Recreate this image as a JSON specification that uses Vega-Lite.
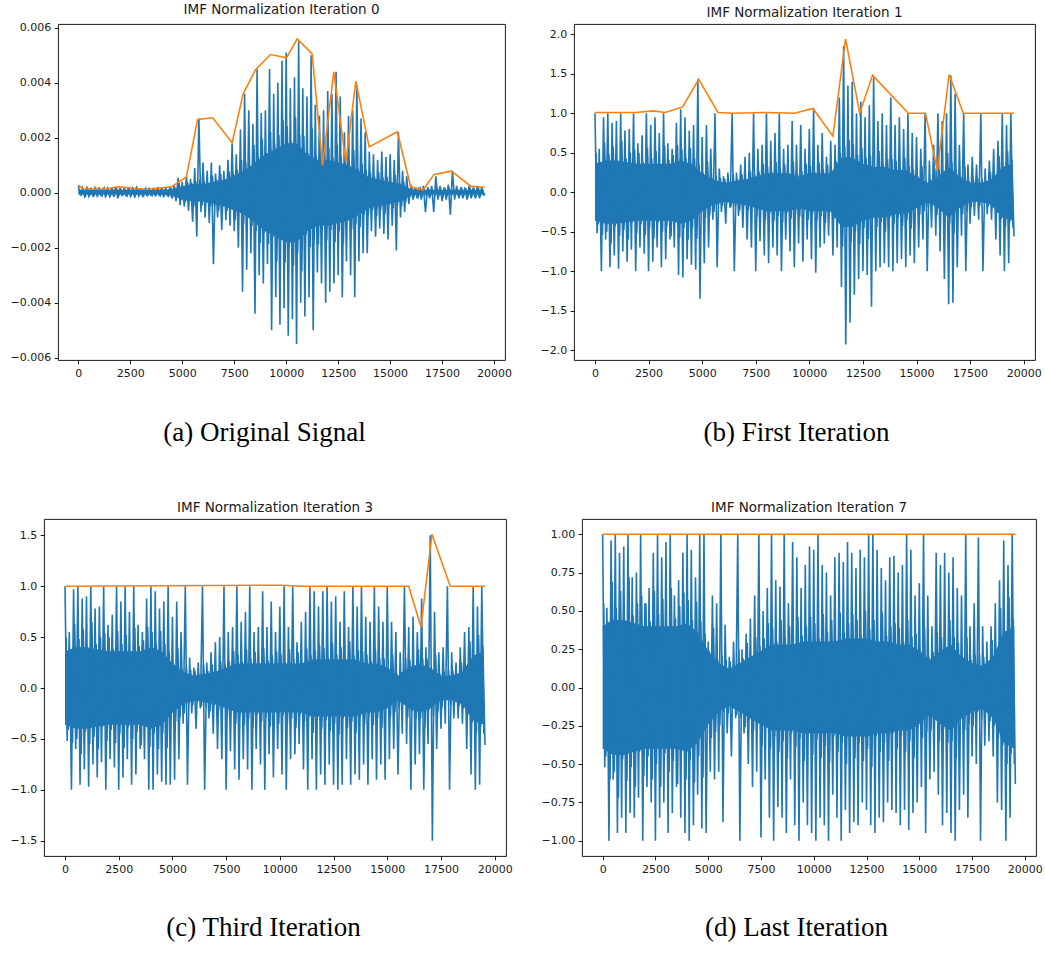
{
  "$schema": "https://vega.github.io/schema/vega-lite/v6.json",
  "background": "white",
  "padding": {"left": 8, "top": 2, "right": 4, "bottom": 5},
  "spacing": 54,
  "config": {
    "font": "DejaVu Sans",
    "view": {"stroke": "#000000", "strokeWidth": 0.9},
    "axis": {
      "grid": false,
      "domain": false,
      "tickColor": "#000000",
      "tickSize": 3.8,
      "tickWidth": 0.9,
      "labelFont": "DejaVu Sans",
      "labelFontSize": 11,
      "labelColor": "#1a1a1a",
      "labelPadding": 3.5,
      "labelOverlap": false,
      "labelFlush": false,
      "titleFont": "Liberation Serif",
      "titleFontSize": 27,
      "titleFontWeight": "normal",
      "titleColor": "#000000"
    },
    "title": {
      "font": "DejaVu Sans",
      "fontSize": 13.5,
      "fontWeight": "normal",
      "color": "#1a1a1a",
      "frame": "group",
      "anchor": "middle",
      "baseline": "alphabetic",
      "offset": 5
    }
  },
  "datasets": {
    "signal": [
      {"x":0,"a":0.00025,"b":1,"c":1,"d":1},
      {"x":100,"a":-0.0001,"b":-0.52,"c":-0.52,"d":-0.52},
      {"x":200,"a":0.00018,"b":0.55,"c":0.55,"d":0.52},
      {"x":300,"a":-0.00012,"b":-1,"c":-1,"d":-1},
      {"x":400,"a":0.00016,"b":0.95,"c":0.97,"d":0.96},
      {"x":500,"a":-0.00011,"b":-0.6,"c":-0.6,"d":-0.6},
      {"x":600,"a":0.00019,"b":1,"c":1,"d":1},
      {"x":700,"a":-0.00014,"b":-0.95,"c":-0.95,"d":-0.95},
      {"x":800,"a":0.00017,"b":0.88,"c":0.88,"d":0.88},
      {"x":900,"a":-0.0001,"b":-0.8,"c":-0.8,"d":-0.85},
      {"x":1000,"a":0.0002,"b":0.9,"c":0.9,"d":0.92},
      {"x":1100,"a":-0.00013,"b":-0.97,"c":-0.97,"d":-0.95},
      {"x":1200,"a":0.00018,"b":1,"c":1,"d":1},
      {"x":1300,"a":-0.00012,"b":-0.75,"c":-0.75,"d":-0.82},
      {"x":1400,"a":0.00016,"b":0.78,"c":0.78,"d":0.72},
      {"x":1500,"a":-0.00011,"b":-0.88,"c":-0.88,"d":-0.85},
      {"x":1600,"a":0.00019,"b":0.8,"c":0.8,"d":0.75},
      {"x":1700,"a":-0.00015,"b":-0.73,"c":-0.73,"d":-0.72},
      {"x":1800,"a":0.00022,"b":1,"c":1,"d":1},
      {"x":1900,"a":-0.0002,"b":-1,"c":-1,"d":-1},
      {"x":2000,"a":0.00018,"b":0.62,"c":0.62,"d":0.55},
      {"x":2100,"a":-0.00012,"b":-0.7,"c":-0.7,"d":-0.65},
      {"x":2200,"a":0.00017,"b":0.72,"c":0.72,"d":0.65},
      {"x":2300,"a":-0.00013,"b":-0.78,"c":-0.78,"d":-0.75},
      {"x":2400,"a":0.00019,"b":1,"c":1,"d":0.88},
      {"x":2500,"a":-0.00011,"b":-1,"c":-1,"d":-1},
      {"x":2600,"a":0.00016,"b":0.85,"c":0.85,"d":1},
      {"x":2700,"a":-0.00012,"b":-0.88,"c":-0.88,"d":-0.85},
      {"x":2800,"a":0.00018,"b":0.95,"c":1,"d":0.85},
      {"x":2900,"a":-0.0001,"b":-0.7,"c":-0.7,"d":-0.75},
      {"x":3000,"a":0.00017,"b":0.75,"c":0.75,"d":0.95},
      {"x":3100,"a":-0.00015,"b":-0.95,"c":-0.95,"d":-0.95},
      {"x":3200,"a":0.00016,"b":1,"c":1,"d":1},
      {"x":3300,"a":-0.00012,"b":-0.85,"c":-0.85,"d":-0.82},
      {"x":3400,"a":0.00019,"b":0.62,"c":0.62,"d":0.6},
      {"x":3500,"a":-0.00011,"b":-0.6,"c":-0.6,"d":-0.65},
      {"x":3600,"a":0.00018,"b":0.55,"c":0.55,"d":0.7},
      {"x":3700,"a":-0.00013,"b":-0.7,"c":-0.7,"d":-0.85},
      {"x":3800,"a":0.0002,"b":0.88,"c":0.88,"d":0.88},
      {"x":3900,"a":-0.00012,"b":-1.05,"c":-1,"d":-0.95},
      {"x":4000,"a":0.00019,"b":1.05,"c":1,"d":1},
      {"x":4100,"a":-0.00016,"b":-1.08,"c":-1,"d":-1},
      {"x":4200,"a":0.00021,"b":0.95,"c":0.95,"d":0.9},
      {"x":4300,"a":-0.00014,"b":-0.85,"c":-0.85,"d":-0.9},
      {"x":4400,"a":0.0002,"b":0.78,"c":0.78,"d":0.72},
      {"x":4500,"a":-0.0002,"b":-0.92,"c":-0.92,"d":-0.7},
      {"x":4600,"a":0.00025,"b":0.85,"c":0.85,"d":1},
      {"x":4700,"a":-0.0003,"b":-0.98,"c":-0.95,"d":-0.92},
      {"x":4800,"a":0.00055,"b":1.43,"c":1,"d":1},
      {"x":4900,"a":-0.00045,"b":-1.35,"c":-0.95,"d":-0.95},
      {"x":5000,"a":0.0004,"b":0.7,"c":0.7,"d":0.3},
      {"x":5100,"a":-0.0005,"b":-0.9,"c":-0.9,"d":-0.55},
      {"x":5200,"a":0.0006,"b":0.85,"c":0.85,"d":0.6},
      {"x":5300,"a":-0.00065,"b":-0.7,"c":-0.7,"d":-0.6},
      {"x":5400,"a":0.0005,"b":0.55,"c":0.55,"d":0.55},
      {"x":5500,"a":-0.00105,"b":-0.35,"c":-0.35,"d":-0.55},
      {"x":5600,"a":0.0009,"b":1,"c":1,"d":1},
      {"x":5700,"a":-0.0016,"b":-0.95,"c":-0.95,"d":-0.88},
      {"x":5800,"a":0.0027,"b":0.3,"c":0.3,"d":0.41},
      {"x":5900,"a":-0.0007,"b":-0.25,"c":-0.25,"d":-0.3},
      {"x":6000,"a":0.0011,"b":0.2,"c":0.2,"d":0.2},
      {"x":6100,"a":-0.0009,"b":-0.4,"c":-0.4,"d":-0.45},
      {"x":6200,"a":0.0008,"b":0.25,"c":0.25,"d":0.3},
      {"x":6300,"a":-0.0011,"b":-0.2,"c":-0.2,"d":-0.2},
      {"x":6400,"a":0.0011,"b":1,"c":1,"d":1},
      {"x":6500,"a":-0.0026,"b":-1,"c":-1,"d":-1},
      {"x":6600,"a":0.0007,"b":0.25,"c":0.25,"d":0.25},
      {"x":6700,"a":-0.0009,"b":-0.3,"c":-0.3,"d":-0.3},
      {"x":6800,"a":0.001,"b":0.35,"c":0.35,"d":0.35},
      {"x":6900,"a":-0.00135,"b":-0.45,"c":-0.45,"d":-0.5},
      {"x":7000,"a":0.0008,"b":0.45,"c":0.45,"d":0.45},
      {"x":7100,"a":-0.001,"b":-0.6,"c":-0.6,"d":-0.65},
      {"x":7200,"a":0.0012,"b":0.5,"c":0.5,"d":0.6},
      {"x":7300,"a":-0.0012,"b":-0.7,"c":-0.7,"d":-0.55},
      {"x":7400,"a":0.0018,"b":1,"c":1,"d":1},
      {"x":7500,"a":-0.0014,"b":-1,"c":-1,"d":-0.98},
      {"x":7600,"a":0.0014,"b":0.55,"c":0.55,"d":0.5},
      {"x":7700,"a":-0.002,"b":-0.62,"c":-0.62,"d":-0.6},
      {"x":7800,"a":0.0023,"b":0.6,"c":0.6,"d":0.65},
      {"x":7900,"a":-0.0036,"b":-0.8,"c":-0.8,"d":-0.85},
      {"x":8000,"a":0.0036,"b":1,"c":1,"d":1},
      {"x":8100,"a":-0.0028,"b":-0.9,"c":-0.9,"d":-1},
      {"x":8200,"a":0.003,"b":0.65,"c":0.65,"d":0.7},
      {"x":8300,"a":-0.0022,"b":-0.7,"c":-0.7,"d":-0.78},
      {"x":8400,"a":0.0025,"b":0.75,"c":0.75,"d":0.66},
      {"x":8500,"a":-0.0044,"b":-0.8,"c":-0.8,"d":-0.85},
      {"x":8600,"a":0.0045,"b":1,"c":1,"d":1},
      {"x":8700,"a":-0.003,"b":-1,"c":-1,"d":-0.95},
      {"x":8800,"a":0.0029,"b":0.55,"c":0.55,"d":0.55},
      {"x":8900,"a":-0.0033,"b":-0.6,"c":-0.6,"d":-0.6},
      {"x":9000,"a":0.003,"b":0.6,"c":0.6,"d":0.95},
      {"x":9100,"a":-0.0026,"b":-0.75,"c":-0.75,"d":-0.9},
      {"x":9200,"a":0.0045,"b":0.9,"c":0.95,"d":0.85},
      {"x":9300,"a":-0.005,"b":-0.95,"c":-1,"d":-1},
      {"x":9400,"a":0.0036,"b":0.6,"c":0.6,"d":0.65},
      {"x":9500,"a":-0.0038,"b":-0.65,"c":-0.65,"d":-0.75},
      {"x":9600,"a":0.004,"b":0.85,"c":0.85,"d":0.8},
      {"x":9700,"a":-0.0048,"b":-0.88,"c":-0.88,"d":-0.9},
      {"x":9800,"a":0.0048,"b":0.55,"c":0.55,"d":0.92},
      {"x":9900,"a":-0.0042,"b":-0.6,"c":-0.6,"d":-0.95},
      {"x":10000,"a":0.0051,"b":0.8,"c":0.8,"d":0.9},
      {"x":10100,"a":-0.0052,"b":-0.85,"c":-0.85,"d":-1},
      {"x":10200,"a":0.0038,"b":1.06,"c":1,"d":1},
      {"x":10300,"a":-0.0046,"b":-1.02,"c":-1,"d":-0.85},
      {"x":10400,"a":0.0042,"b":0.6,"c":0.6,"d":0.8},
      {"x":10500,"a":-0.0055,"b":-0.7,"c":-0.7,"d":-0.9},
      {"x":10600,"a":0.0055,"b":0.75,"c":1,"d":0.75},
      {"x":10700,"a":-0.004,"b":-0.65,"c":-0.65,"d":-1},
      {"x":10800,"a":0.0038,"b":0.45,"c":0.45,"d":0.6},
      {"x":10900,"a":-0.0045,"b":-0.55,"c":-0.55,"d":-0.7},
      {"x":11000,"a":0.0035,"b":0.65,"c":0.65,"d":0.85},
      {"x":11100,"a":-0.0038,"b":-0.8,"c":-0.8,"d":-0.85},
      {"x":11200,"a":0.005,"b":0.6,"c":0.75,"d":0.88},
      {"x":11300,"a":-0.005,"b":-0.7,"c":-1,"d":-1},
      {"x":11400,"a":0.0032,"b":1.2,"c":1,"d":0.82},
      {"x":11500,"a":-0.0029,"b":-1.2,"c":-0.7,"d":-0.8},
      {"x":11600,"a":0.0028,"b":1.85,"c":0.95,"d":0.95},
      {"x":11700,"a":-0.0033,"b":-1.93,"c":-1,"d":-0.95},
      {"x":11800,"a":0.003,"b":1.35,"c":0.8,"d":0.88},
      {"x":11900,"a":-0.004,"b":-1.65,"c":-0.85,"d":-0.88},
      {"x":12000,"a":0.0037,"b":1.4,"c":0.95,"d":0.78},
      {"x":12100,"a":-0.0036,"b":-1.3,"c":-0.95,"d":-0.9},
      {"x":12200,"a":0.0036,"b":1,"c":1,"d":0.9},
      {"x":12300,"a":-0.0033,"b":-1.1,"c":-0.75,"d":-0.75},
      {"x":12400,"a":0.0044,"b":1.15,"c":0.85,"d":0.85},
      {"x":12500,"a":-0.003,"b":-1,"c":-0.95,"d":-0.8},
      {"x":12600,"a":0.0035,"b":0.95,"c":0.9,"d":1},
      {"x":12700,"a":-0.0038,"b":-1.05,"c":-1,"d":-0.9},
      {"x":12800,"a":0.0022,"b":1.1,"c":0.65,"d":1},
      {"x":12900,"a":-0.0025,"b":-1.45,"c":-0.95,"d":-0.95},
      {"x":13000,"a":0.0028,"b":1.45,"c":0.95,"d":0.9},
      {"x":13100,"a":-0.003,"b":-1,"c":-0.7,"d":-0.85},
      {"x":13200,"a":0.003,"b":0.9,"c":0.6,"d":0.78},
      {"x":13300,"a":-0.0038,"b":-0.95,"c":-0.95,"d":-0.88},
      {"x":13400,"a":0.0039,"b":1,"c":1,"d":0.7},
      {"x":13500,"a":-0.0025,"b":-0.9,"c":-0.85,"d":-0.75},
      {"x":13600,"a":0.0027,"b":0.85,"c":0.8,"d":0.85},
      {"x":13700,"a":-0.0022,"b":-0.95,"c":-0.9,"d":-0.8},
      {"x":13800,"a":0.0022,"b":1.2,"c":1,"d":0.86},
      {"x":13900,"a":-0.0022,"b":-1,"c":-0.75,"d":-0.82},
      {"x":14000,"a":0.0015,"b":0.85,"c":0.7,"d":0.75},
      {"x":14100,"a":-0.0014,"b":-0.9,"c":-0.95,"d":-0.9},
      {"x":14200,"a":0.0014,"b":0.95,"c":0.65,"d":0.8},
      {"x":14300,"a":-0.0016,"b":-0.85,"c":-0.7,"d":-0.8},
      {"x":14400,"a":0.0012,"b":0.8,"c":1,"d":1},
      {"x":14500,"a":-0.0013,"b":-0.95,"c":-0.9,"d":-0.93},
      {"x":14600,"a":0.0015,"b":1,"c":0.8,"d":0.9},
      {"x":14700,"a":-0.0015,"b":-0.8,"c":-0.75,"d":-0.82},
      {"x":14800,"a":0.0013,"b":0.75,"c":0.65,"d":0.6},
      {"x":14900,"a":-0.0017,"b":-0.9,"c":-0.9,"d":-0.75},
      {"x":15000,"a":0.0014,"b":0.7,"c":1,"d":0.68},
      {"x":15100,"a":-0.0012,"b":-0.7,"c":-0.7,"d":-0.65},
      {"x":15200,"a":0.0012,"b":0.55,"c":0.65,"d":1},
      {"x":15300,"a":-0.0021,"b":-0.6,"c":-0.6,"d":-0.95},
      {"x":15400,"a":0.0022,"b":1,"c":0.55,"d":0.6},
      {"x":15500,"a":-0.0009,"b":-1,"c":-0.85,"d":-0.6},
      {"x":15600,"a":0.0008,"b":0.4,"c":0.35,"d":0.4},
      {"x":15700,"a":-0.0007,"b":-0.45,"c":-0.45,"d":-0.55},
      {"x":15800,"a":0.0006,"b":0.6,"c":1,"d":0.88},
      {"x":15900,"a":-0.0004,"b":-0.55,"c":-0.55,"d":-0.7},
      {"x":16000,"a":0.0003,"b":1,"c":0.6,"d":0.8},
      {"x":16100,"a":-0.00025,"b":-0.75,"c":-1,"d":-0.9},
      {"x":16200,"a":0.0002,"b":0.9,"c":0.7,"d":0.88},
      {"x":16300,"a":-0.0002,"b":-1.1,"c":-0.75,"d":-0.82},
      {"x":16400,"a":0.0002,"b":1,"c":0.55,"d":0.75},
      {"x":16500,"a":-0.00025,"b":-1.42,"c":-0.65,"d":-0.95},
      {"x":16600,"a":0.00025,"b":1.48,"c":0.88,"d":0.85},
      {"x":16700,"a":-0.0007,"b":-1.4,"c":-1,"d":-1},
      {"x":16800,"a":0.0002,"b":1.25,"c":0.4,"d":0.65},
      {"x":16900,"a":-0.0002,"b":-0.95,"c":-0.55,"d":-0.8},
      {"x":17000,"a":0.00025,"b":0.6,"c":1.5,"d":0.6},
      {"x":17100,"a":-0.0007,"b":-0.55,"c":-1.5,"d":-0.7},
      {"x":17200,"a":0.0006,"b":1,"c":0.75,"d":1},
      {"x":17300,"a":-0.00025,"b":-1,"c":-0.6,"d":-0.85},
      {"x":17400,"a":0.00025,"b":0.35,"c":0.35,"d":0.4},
      {"x":17500,"a":-0.0003,"b":-0.4,"c":-0.4,"d":-0.45},
      {"x":17600,"a":0.0002,"b":0.45,"c":0.4,"d":0.55},
      {"x":17700,"a":-0.00025,"b":-0.3,"c":-0.35,"d":-0.5},
      {"x":17800,"a":0.0003,"b":0.35,"c":1,"d":0.98},
      {"x":17900,"a":-0.0008,"b":-0.35,"c":-1,"d":-1},
      {"x":18000,"a":0.0008,"b":1,"c":0.35,"d":0.4},
      {"x":18100,"a":-0.00025,"b":-1,"c":-0.3,"d":-0.38},
      {"x":18200,"a":0.00025,"b":0.3,"c":0.25,"d":0.3},
      {"x":18300,"a":-0.0002,"b":-0.28,"c":-0.3,"d":-0.35},
      {"x":18400,"a":0.0002,"b":0.4,"c":0.4,"d":0.4},
      {"x":18500,"a":-0.0002,"b":-0.35,"c":-0.35,"d":-0.45},
      {"x":18600,"a":0.0002,"b":0.55,"c":0.55,"d":0.55},
      {"x":18700,"a":-0.00025,"b":-0.6,"c":-0.6,"d":-0.75},
      {"x":18800,"a":0.00025,"b":0.65,"c":0.6,"d":0.7},
      {"x":18900,"a":-0.0002,"b":-0.8,"c":-0.85,"d":-0.8},
      {"x":19000,"a":0.0002,"b":1,"c":1,"d":0.96},
      {"x":19100,"a":-0.0002,"b":-1,"c":-1,"d":-1},
      {"x":19200,"a":0.00025,"b":0.85,"c":0.8,"d":0.8},
      {"x":19300,"a":-0.0002,"b":-0.9,"c":-0.95,"d":-0.85},
      {"x":19400,"a":0.0002,"b":1,"c":1,"d":1},
      {"x":19500,"a":-0.0001,"b":-0.45,"c":-0.45,"d":-0.5}
    ],
    "body": [
      {"x":50,"a":0.00013,"b":0.5,"c":0.5,"d":0.55},{"x":150,"a":-0.00007,"b":-0.41,"c":-0.41,"d":-0.45},
      {"x":250,"a":0.0001,"b":0.38,"c":0.38,"d":0.43},{"x":350,"a":-0.0001,"b":-0.54,"c":-0.54,"d":-0.6},
      {"x":450,"a":0.00015,"b":0.63,"c":0.63,"d":0.69},{"x":550,"a":-0.00008,"b":-0.5,"c":-0.5,"d":-0.55},
      {"x":650,"a":0.00011,"b":0.48,"c":0.48,"d":0.52},{"x":750,"a":-0.0001,"b":-0.65,"c":-0.65,"d":-0.72},
      {"x":850,"a":0.00014,"b":0.58,"c":0.58,"d":0.63},{"x":950,"a":-0.00007,"b":-0.43,"c":-0.43,"d":-0.47},
      {"x":1050,"a":0.0001,"b":0.4,"c":0.4,"d":0.44},{"x":1150,"a":-0.00009,"b":-0.55,"c":-0.55,"d":-0.61},
      {"x":1250,"a":0.00016,"b":0.65,"c":0.65,"d":0.72},{"x":1350,"a":-0.00008,"b":-0.48,"c":-0.48,"d":-0.52},
      {"x":1450,"a":0.00011,"b":0.43,"c":0.43,"d":0.47},{"x":1550,"a":-0.0001,"b":-0.6,"c":-0.6,"d":-0.65},
      {"x":1650,"a":0.00013,"b":0.5,"c":0.5,"d":0.55},{"x":1750,"a":-0.00006,"b":-0.38,"c":-0.38,"d":-0.42},
      {"x":1850,"a":0.00014,"b":0.54,"c":0.54,"d":0.6},{"x":1950,"a":-0.00009,"b":-0.52,"c":-0.52,"d":-0.58},
      {"x":2050,"a":0.00013,"b":0.5,"c":0.5,"d":0.55},{"x":2150,"a":-0.00007,"b":-0.41,"c":-0.41,"d":-0.45},
      {"x":2250,"a":0.0001,"b":0.38,"c":0.38,"d":0.43},{"x":2350,"a":-0.0001,"b":-0.54,"c":-0.54,"d":-0.6},
      {"x":2450,"a":0.00015,"b":0.56,"c":0.56,"d":0.63},{"x":2550,"a":-0.00008,"b":-0.45,"c":-0.45,"d":-0.5},
      {"x":2650,"a":0.00011,"b":0.43,"c":0.43,"d":0.48},{"x":2750,"a":-0.0001,"b":-0.59,"c":-0.59,"d":-0.65},
      {"x":2850,"a":0.00014,"b":0.52,"c":0.52,"d":0.58},{"x":2950,"a":-0.00007,"b":-0.38,"c":-0.38,"d":-0.43},
      {"x":3050,"a":0.0001,"b":0.36,"c":0.36,"d":0.4},{"x":3150,"a":-0.00009,"b":-0.5,"c":-0.5,"d":-0.55},
      {"x":3250,"a":0.00016,"b":0.59,"c":0.59,"d":0.65},{"x":3350,"a":-0.00008,"b":-0.43,"c":-0.43,"d":-0.48},
      {"x":3450,"a":0.00011,"b":0.41,"c":0.41,"d":0.45},{"x":3550,"a":-0.0001,"b":-0.56,"c":-0.56,"d":-0.63},
      {"x":3650,"a":0.00013,"b":0.47,"c":0.47,"d":0.53},{"x":3750,"a":-0.00006,"b":-0.36,"c":-0.36,"d":-0.4},
      {"x":3850,"a":0.00014,"b":0.6,"c":0.6,"d":0.62},{"x":3950,"a":-0.00009,"b":-0.58,"c":-0.58,"d":-0.6},
      {"x":4050,"a":0.00013,"b":0.55,"c":0.55,"d":0.57},{"x":4150,"a":-0.00007,"b":-0.45,"c":-0.45,"d":-0.47},
      {"x":4250,"a":0.0001,"b":0.43,"c":0.43,"d":0.44},{"x":4350,"a":-0.0001,"b":-0.6,"c":-0.6,"d":-0.62},
      {"x":4450,"a":0.00019,"b":0.56,"c":0.56,"d":0.56},{"x":4550,"a":-0.00012,"b":-0.45,"c":-0.45,"d":-0.45},
      {"x":4650,"a":0.00014,"b":0.43,"c":0.43,"d":0.43},{"x":4750,"a":-0.00016,"b":-0.59,"c":-0.59,"d":-0.59},
      {"x":4850,"a":0.00035,"b":0.35,"c":0.35,"d":0.35},{"x":4950,"a":-0.00026,"b":-0.26,"c":-0.26,"d":-0.26},
      {"x":5050,"a":0.00024,"b":0.24,"c":0.24,"d":0.24},{"x":5150,"a":-0.00033,"b":-0.33,"c":-0.33,"d":-0.33},
      {"x":5250,"a":0.00039,"b":0.39,"c":0.39,"d":0.39},{"x":5350,"a":-0.00029,"b":-0.29,"c":-0.29,"d":-0.29},
      {"x":5450,"a":0.00036,"b":0.18,"c":0.18,"d":0.18},{"x":5550,"a":-0.0005,"b":-0.25,"c":-0.25,"d":-0.25},
      {"x":5650,"a":0.00042,"b":0.21,"c":0.21,"d":0.21},{"x":5750,"a":-0.00032,"b":-0.16,"c":-0.16,"d":-0.16},
      {"x":5850,"a":0.00048,"b":0.18,"c":0.18,"d":0.18},{"x":5950,"a":-0.00046,"b":-0.17,"c":-0.17,"d":-0.17},
      {"x":6050,"a":0.00044,"b":0.17,"c":0.17,"d":0.17},{"x":6150,"a":-0.00036,"b":-0.14,"c":-0.14,"d":-0.14},
      {"x":6250,"a":0.00034,"b":0.13,"c":0.13,"d":0.13},{"x":6350,"a":-0.00048,"b":-0.18,"c":-0.18,"d":-0.18},
      {"x":6450,"a":0.00063,"b":0.23,"c":0.23,"d":0.25},{"x":6550,"a":-0.0005,"b":-0.18,"c":-0.18,"d":-0.2},
      {"x":6650,"a":0.00048,"b":0.17,"c":0.17,"d":0.19},{"x":6750,"a":-0.00065,"b":-0.23,"c":-0.23,"d":-0.26},
      {"x":6850,"a":0.00069,"b":0.23,"c":0.23,"d":0.29},{"x":6950,"a":-0.00051,"b":-0.17,"c":-0.17,"d":-0.21},
      {"x":7050,"a":0.00048,"b":0.16,"c":0.16,"d":0.2},{"x":7150,"a":-0.00066,"b":-0.22,"c":-0.22,"d":-0.28},
      {"x":7250,"a":0.00078,"b":0.26,"c":0.26,"d":0.33},{"x":7350,"a":-0.00057,"b":-0.19,"c":-0.19,"d":-0.24},
      {"x":7450,"a":0.00072,"b":0.23,"c":0.23,"d":0.27},{"x":7550,"a":-0.001,"b":-0.31,"c":-0.31,"d":-0.38},
      {"x":7650,"a":0.00084,"b":0.26,"c":0.26,"d":0.32},{"x":7750,"a":-0.00064,"b":-0.2,"c":-0.2,"d":-0.24},
      {"x":7850,"a":0.0012,"b":0.36,"c":0.36,"d":0.42},{"x":7950,"a":-0.00115,"b":-0.35,"c":-0.35,"d":-0.4},
      {"x":8050,"a":0.0011,"b":0.33,"c":0.33,"d":0.39},{"x":8150,"a":-0.0009,"b":-0.27,"c":-0.27,"d":-0.32},
      {"x":8250,"a":0.00085,"b":0.26,"c":0.26,"d":0.3},{"x":8350,"a":-0.0012,"b":-0.36,"c":-0.36,"d":-0.42},
      {"x":8450,"a":0.00175,"b":0.38,"c":0.38,"d":0.44},{"x":8550,"a":-0.0014,"b":-0.3,"c":-0.3,"d":-0.35},
      {"x":8650,"a":0.00133,"b":0.29,"c":0.29,"d":0.33},{"x":8750,"a":-0.00182,"b":-0.39,"c":-0.39,"d":-0.46},
      {"x":8850,"a":0.00196,"b":0.35,"c":0.35,"d":0.4},{"x":8950,"a":-0.00145,"b":-0.26,"c":-0.26,"d":-0.3},
      {"x":9050,"a":0.00136,"b":0.24,"c":0.24,"d":0.28},{"x":9150,"a":-0.00187,"b":-0.33,"c":-0.33,"d":-0.39},
      {"x":9250,"a":0.00221,"b":0.39,"c":0.39,"d":0.46},{"x":9350,"a":-0.00162,"b":-0.29,"c":-0.29,"d":-0.33},
      {"x":9450,"a":0.0018,"b":0.23,"c":0.27,"d":0.34},{"x":9550,"a":-0.0025,"b":-0.31,"c":-0.38,"d":-0.48},
      {"x":9650,"a":0.0021,"b":0.26,"c":0.32,"d":0.4},{"x":9750,"a":-0.0016,"b":-0.2,"c":-0.24,"d":-0.3},
      {"x":9850,"a":0.00264,"b":0.36,"c":0.36,"d":0.46},{"x":9950,"a":-0.00253,"b":-0.35,"c":-0.35,"d":-0.44},
      {"x":10050,"a":0.00242,"b":0.33,"c":0.33,"d":0.42},{"x":10150,"a":-0.00198,"b":-0.27,"c":-0.27,"d":-0.34},
      {"x":10250,"a":0.00187,"b":0.26,"c":0.26,"d":0.32},{"x":10350,"a":-0.00264,"b":-0.36,"c":-0.36,"d":-0.46},
      {"x":10450,"a":0.00275,"b":0.38,"c":0.38,"d":0.48},{"x":10550,"a":-0.0022,"b":-0.3,"c":-0.3,"d":-0.38},
      {"x":10650,"a":0.00209,"b":0.29,"c":0.29,"d":0.36},{"x":10750,"a":-0.00286,"b":-0.39,"c":-0.39,"d":-0.49},
      {"x":10850,"a":0.00207,"b":0.35,"c":0.35,"d":0.44},{"x":10950,"a":-0.00153,"b":-0.26,"c":-0.26,"d":-0.32},
      {"x":11050,"a":0.00144,"b":0.24,"c":0.24,"d":0.3},{"x":11150,"a":-0.00198,"b":-0.33,"c":-0.33,"d":-0.42},
      {"x":11250,"a":0.00234,"b":0.39,"c":0.39,"d":0.49},{"x":11350,"a":-0.00171,"b":-0.29,"c":-0.29,"d":-0.36},
      {"x":11450,"a":0.00135,"b":0.5,"c":0.32,"d":0.36},{"x":11550,"a":-0.00188,"b":-0.69,"c":-0.44,"d":-0.5},
      {"x":11650,"a":0.00158,"b":0.58,"c":0.37,"d":0.42},{"x":11750,"a":-0.0012,"b":-0.44,"c":-0.28,"d":-0.32},
      {"x":11850,"a":0.0018,"b":0.66,"c":0.42,"d":0.48},{"x":11950,"a":-0.00173,"b":-0.63,"c":-0.4,"d":-0.46},
      {"x":12050,"a":0.00165,"b":0.61,"c":0.39,"d":0.44},{"x":12150,"a":-0.00135,"b":-0.5,"c":-0.32,"d":-0.36},
      {"x":12250,"a":0.00128,"b":0.47,"c":0.3,"d":0.34},{"x":12350,"a":-0.0018,"b":-0.66,"c":-0.42,"d":-0.48},
      {"x":12450,"a":0.00175,"b":0.56,"c":0.44,"d":0.5},{"x":12550,"a":-0.0014,"b":-0.45,"c":-0.35,"d":-0.4},
      {"x":12650,"a":0.00133,"b":0.43,"c":0.33,"d":0.38},{"x":12750,"a":-0.00182,"b":-0.59,"c":-0.46,"d":-0.52},
      {"x":12850,"a":0.00138,"b":0.46,"c":0.4,"d":0.44},{"x":12950,"a":-0.00102,"b":-0.34,"c":-0.3,"d":-0.32},
      {"x":13050,"a":0.00096,"b":0.32,"c":0.28,"d":0.3},{"x":13150,"a":-0.00132,"b":-0.44,"c":-0.39,"d":-0.42},
      {"x":13250,"a":0.00156,"b":0.52,"c":0.46,"d":0.49},{"x":13350,"a":-0.00114,"b":-0.38,"c":-0.33,"d":-0.36},
      {"x":13450,"a":0.0009,"b":0.36,"c":0.32,"d":0.34},{"x":13550,"a":-0.00125,"b":-0.5,"c":-0.44,"d":-0.48},
      {"x":13650,"a":0.00105,"b":0.42,"c":0.37,"d":0.4},{"x":13750,"a":-0.0008,"b":-0.32,"c":-0.28,"d":-0.3},
      {"x":13850,"a":0.00084,"b":0.42,"c":0.36,"d":0.42},{"x":13950,"a":-0.00081,"b":-0.4,"c":-0.35,"d":-0.4},
      {"x":14050,"a":0.00077,"b":0.39,"c":0.33,"d":0.39},{"x":14150,"a":-0.00063,"b":-0.32,"c":-0.27,"d":-0.32},
      {"x":14250,"a":0.0006,"b":0.3,"c":0.26,"d":0.3},{"x":14350,"a":-0.00084,"b":-0.42,"c":-0.36,"d":-0.42},
      {"x":14450,"a":0.00075,"b":0.44,"c":0.38,"d":0.44},{"x":14550,"a":-0.0006,"b":-0.35,"c":-0.3,"d":-0.35},
      {"x":14650,"a":0.00057,"b":0.33,"c":0.29,"d":0.33},{"x":14750,"a":-0.00078,"b":-0.46,"c":-0.39,"d":-0.46},
      {"x":14850,"a":0.00058,"b":0.29,"c":0.29,"d":0.35},{"x":14950,"a":-0.00043,"b":-0.21,"c":-0.21,"d":-0.26},
      {"x":15050,"a":0.0004,"b":0.2,"c":0.2,"d":0.24},{"x":15150,"a":-0.00055,"b":-0.28,"c":-0.28,"d":-0.33},
      {"x":15250,"a":0.00065,"b":0.33,"c":0.33,"d":0.39},{"x":15350,"a":-0.00048,"b":-0.24,"c":-0.24,"d":-0.29},
      {"x":15450,"a":0.00036,"b":0.14,"c":0.14,"d":0.2},{"x":15550,"a":-0.0005,"b":-0.19,"c":-0.19,"d":-0.28},
      {"x":15650,"a":0.00042,"b":0.16,"c":0.16,"d":0.23},{"x":15750,"a":-0.00032,"b":-0.12,"c":-0.12,"d":-0.18},
      {"x":15850,"a":0.00018,"b":0.3,"c":0.3,"d":0.36},{"x":15950,"a":-0.00014,"b":-0.29,"c":-0.29,"d":-0.35},
      {"x":16050,"a":0.00017,"b":0.28,"c":0.28,"d":0.33},{"x":16150,"a":-0.00011,"b":-0.23,"c":-0.23,"d":-0.27},
      {"x":16250,"a":0.00013,"b":0.21,"c":0.21,"d":0.26},{"x":16350,"a":-0.00014,"b":-0.3,"c":-0.3,"d":-0.36},
      {"x":16450,"a":0.00015,"b":0.5,"c":0.38,"d":0.44},{"x":16550,"a":-0.00008,"b":-0.4,"c":-0.3,"d":-0.35},
      {"x":16650,"a":0.00011,"b":0.38,"c":0.29,"d":0.33},{"x":16750,"a":-0.0001,"b":-0.52,"c":-0.39,"d":-0.46},
      {"x":16850,"a":0.00014,"b":0.29,"c":0.29,"d":0.29},{"x":16950,"a":-0.00007,"b":-0.21,"c":-0.21,"d":-0.21},
      {"x":17050,"a":0.0001,"b":0.2,"c":0.2,"d":0.2},{"x":17150,"a":-0.00009,"b":-0.28,"c":-0.28,"d":-0.28},
      {"x":17250,"a":0.00016,"b":0.33,"c":0.33,"d":0.33},{"x":17350,"a":-0.00008,"b":-0.24,"c":-0.24,"d":-0.24},
      {"x":17450,"a":0.00011,"b":0.14,"c":0.14,"d":0.18},{"x":17550,"a":-0.0001,"b":-0.19,"c":-0.19,"d":-0.25},
      {"x":17650,"a":0.00013,"b":0.16,"c":0.16,"d":0.21},{"x":17750,"a":-0.00006,"b":-0.12,"c":-0.12,"d":-0.16},
      {"x":17850,"a":0.00014,"b":0.18,"c":0.18,"d":0.22},{"x":17950,"a":-0.00009,"b":-0.17,"c":-0.17,"d":-0.21},
      {"x":18050,"a":0.00013,"b":0.17,"c":0.17,"d":0.2},{"x":18150,"a":-0.00007,"b":-0.14,"c":-0.14,"d":-0.16},
      {"x":18250,"a":0.0001,"b":0.13,"c":0.13,"d":0.15},{"x":18350,"a":-0.0001,"b":-0.18,"c":-0.18,"d":-0.22},
      {"x":18450,"a":0.00015,"b":0.25,"c":0.25,"d":0.31},{"x":18550,"a":-0.00008,"b":-0.2,"c":-0.2,"d":-0.25},
      {"x":18650,"a":0.00011,"b":0.19,"c":0.19,"d":0.24},{"x":18750,"a":-0.0001,"b":-0.26,"c":-0.26,"d":-0.33},
      {"x":18850,"a":0.00014,"b":0.46,"c":0.46,"d":0.52},{"x":18950,"a":-0.00007,"b":-0.34,"c":-0.34,"d":-0.38},
      {"x":19050,"a":0.0001,"b":0.32,"c":0.32,"d":0.36},{"x":19150,"a":-0.00009,"b":-0.44,"c":-0.44,"d":-0.5},
      {"x":19250,"a":0.00016,"b":0.52,"c":0.52,"d":0.59},{"x":19350,"a":-0.00008,"b":-0.38,"c":-0.38,"d":-0.43},
      {"x":19450,"a":0.00011,"b":0.41,"c":0.41,"d":0.45},{"x":19550,"a":-0.0001,"b":-0.56,"c":-0.56,"d":-0.63}
    ],
    "core": [
      {"x":0,"a":0.0001,"a2":-0.00006,"b":0.36,"b2":-0.36,"c":0.36,"c2":-0.36,"d":0.4,"d2":-0.4},
      {"x":500,"a":0.0001,"a2":-0.00006,"b":0.4,"b2":-0.4,"c":0.4,"c2":-0.4,"d":0.44,"d2":-0.44},
      {"x":1000,"a":0.0001,"a2":-0.00006,"b":0.4,"b2":-0.4,"c":0.4,"c2":-0.4,"d":0.44,"d2":-0.44},
      {"x":1500,"a":0.0001,"a2":-0.00006,"b":0.38,"b2":-0.38,"c":0.38,"c2":-0.38,"d":0.42,"d2":-0.42},
      {"x":2000,"a":0.0001,"a2":-0.00006,"b":0.36,"b2":-0.36,"c":0.36,"c2":-0.36,"d":0.4,"d2":-0.4},
      {"x":2500,"a":0.0001,"a2":-0.00006,"b":0.36,"b2":-0.36,"c":0.36,"c2":-0.36,"d":0.4,"d2":-0.4},
      {"x":3000,"a":0.0001,"a2":-0.00006,"b":0.36,"b2":-0.36,"c":0.36,"c2":-0.36,"d":0.4,"d2":-0.4},
      {"x":3500,"a":0.0001,"a2":-0.00006,"b":0.36,"b2":-0.36,"c":0.36,"c2":-0.36,"d":0.4,"d2":-0.4},
      {"x":4000,"a":0.0001,"a2":-0.00006,"b":0.4,"b2":-0.4,"c":0.4,"c2":-0.4,"d":0.42,"d2":-0.42},
      {"x":4500,"a":0.00012,"a2":-0.0001,"b":0.36,"b2":-0.36,"c":0.36,"c2":-0.36,"d":0.36,"d2":-0.36},
      {"x":5000,"a":0.00024,"a2":-0.00024,"b":0.24,"b2":-0.24,"c":0.24,"c2":-0.24,"d":0.24,"d2":-0.24},
      {"x":5500,"a":0.00032,"a2":-0.00032,"b":0.16,"b2":-0.16,"c":0.16,"c2":-0.16,"d":0.16,"d2":-0.16},
      {"x":6000,"a":0.00032,"a2":-0.00032,"b":0.12,"b2":-0.12,"c":0.12,"c2":-0.12,"d":0.12,"d2":-0.12},
      {"x":6500,"a":0.0004,"a2":-0.0004,"b":0.14,"b2":-0.14,"c":0.14,"c2":-0.14,"d":0.16,"d2":-0.16},
      {"x":7000,"a":0.00048,"a2":-0.00048,"b":0.16,"b2":-0.16,"c":0.16,"c2":-0.16,"d":0.2,"d2":-0.2},
      {"x":7500,"a":0.00064,"a2":-0.00064,"b":0.2,"b2":-0.2,"c":0.2,"c2":-0.2,"d":0.24,"d2":-0.24},
      {"x":8000,"a":0.0008,"a2":-0.0008,"b":0.24,"b2":-0.24,"c":0.24,"c2":-0.24,"d":0.28,"d2":-0.28},
      {"x":8500,"a":0.0011,"a2":-0.0011,"b":0.24,"b2":-0.24,"c":0.24,"c2":-0.24,"d":0.28,"d2":-0.28},
      {"x":9000,"a":0.0014,"a2":-0.0014,"b":0.24,"b2":-0.24,"c":0.24,"c2":-0.24,"d":0.28,"d2":-0.28},
      {"x":9500,"a":0.0016,"a2":-0.0016,"b":0.2,"b2":-0.2,"c":0.24,"c2":-0.24,"d":0.3,"d2":-0.3},
      {"x":10000,"a":0.0018,"a2":-0.0018,"b":0.24,"b2":-0.24,"c":0.24,"c2":-0.24,"d":0.3,"d2":-0.3},
      {"x":10500,"a":0.0018,"a2":-0.0018,"b":0.24,"b2":-0.24,"c":0.24,"c2":-0.24,"d":0.3,"d2":-0.3},
      {"x":11000,"a":0.0014,"a2":-0.0014,"b":0.24,"b2":-0.24,"c":0.24,"c2":-0.24,"d":0.3,"d2":-0.3},
      {"x":11500,"a":0.0012,"a2":-0.0012,"b":0.44,"b2":-0.44,"c":0.28,"c2":-0.28,"d":0.32,"d2":-0.32},
      {"x":12000,"a":0.0012,"a2":-0.0012,"b":0.44,"b2":-0.44,"c":0.28,"c2":-0.28,"d":0.32,"d2":-0.32},
      {"x":12500,"a":0.0011,"a2":-0.0011,"b":0.36,"b2":-0.36,"c":0.28,"c2":-0.28,"d":0.32,"d2":-0.32},
      {"x":13000,"a":0.001,"a2":-0.001,"b":0.32,"b2":-0.32,"c":0.28,"c2":-0.28,"d":0.3,"d2":-0.3},
      {"x":13500,"a":0.0008,"a2":-0.0008,"b":0.32,"b2":-0.32,"c":0.28,"c2":-0.28,"d":0.3,"d2":-0.3},
      {"x":14000,"a":0.00056,"a2":-0.00056,"b":0.28,"b2":-0.28,"c":0.24,"c2":-0.24,"d":0.28,"d2":-0.28},
      {"x":14500,"a":0.00048,"a2":-0.00048,"b":0.28,"b2":-0.28,"c":0.24,"c2":-0.24,"d":0.28,"d2":-0.28},
      {"x":15000,"a":0.0004,"a2":-0.0004,"b":0.2,"b2":-0.2,"c":0.2,"c2":-0.2,"d":0.24,"d2":-0.24},
      {"x":15500,"a":0.00032,"a2":-0.00032,"b":0.12,"b2":-0.12,"c":0.12,"c2":-0.12,"d":0.18,"d2":-0.18},
      {"x":16000,"a":0.00012,"a2":-0.0001,"b":0.2,"b2":-0.2,"c":0.2,"c2":-0.2,"d":0.24,"d2":-0.24},
      {"x":16500,"a":0.0001,"a2":-0.00006,"b":0.32,"b2":-0.32,"c":0.24,"c2":-0.24,"d":0.28,"d2":-0.28},
      {"x":17000,"a":0.0001,"a2":-0.00006,"b":0.2,"b2":-0.2,"c":0.2,"c2":-0.2,"d":0.2,"d2":-0.2},
      {"x":17500,"a":0.0001,"a2":-0.00006,"b":0.12,"b2":-0.12,"c":0.12,"c2":-0.12,"d":0.16,"d2":-0.16},
      {"x":18000,"a":0.0001,"a2":-0.00006,"b":0.12,"b2":-0.12,"c":0.12,"c2":-0.12,"d":0.14,"d2":-0.14},
      {"x":18500,"a":0.0001,"a2":-0.00006,"b":0.16,"b2":-0.16,"c":0.16,"c2":-0.16,"d":0.2,"d2":-0.2},
      {"x":19000,"a":0.0001,"a2":-0.00006,"b":0.32,"b2":-0.32,"c":0.32,"c2":-0.32,"d":0.36,"d2":-0.36},
      {"x":19500,"a":0.0001,"a2":-0.00006,"b":0.36,"b2":-0.36,"c":0.36,"c2":-0.36,"d":0.4,"d2":-0.4}
    ],
    "envA": [
      {"x":0,"a":0.00028},{"x":210,"a":0.00015},{"x":1200,"a":0.00012},{"x":1970,"a":0.00022},
      {"x":3285,"a":0.00012},{"x":4500,"a":0.00022},{"x":5200,"a":0.00058},{"x":5740,"a":0.00267},
      {"x":6460,"a":0.00273},{"x":7400,"a":0.00182},{"x":7930,"a":0.0036},{"x":8525,"a":0.00448},
      {"x":9250,"a":0.00503},{"x":10020,"a":0.00491},{"x":10530,"a":0.0056},{"x":11250,"a":0.00505},
      {"x":11750,"a":0.001},{"x":12290,"a":0.0044},{"x":12870,"a":0.00111},{"x":13350,"a":0.00406},
      {"x":13990,"a":0.00167},{"x":15350,"a":0.00222},{"x":15990,"a":0.00021},{"x":16590,"a":0.00011},
      {"x":17120,"a":0.00067},{"x":17950,"a":0.00079},{"x":18880,"a":0.00024},{"x":19550,"a":0.0002}
    ],
    "envB": [
      {"x":0,"b":1.01},{"x":1900,"b":1.01},{"x":2710,"b":1.03},{"x":3280,"b":1.01},
      {"x":4090,"b":1.08},{"x":4840,"b":1.43},{"x":5740,"b":1.01},{"x":6470,"b":1.0},
      {"x":8010,"b":1.01},{"x":9310,"b":1.0},{"x":10170,"b":1.06},{"x":11100,"b":0.71},
      {"x":11690,"b":1.94},{"x":12350,"b":1.0},{"x":12950,"b":1.48},{"x":14620,"b":1.0},
      {"x":15420,"b":1.0},{"x":15970,"b":0.27},{"x":16520,"b":1.49},{"x":17180,"b":1.0},
      {"x":17990,"b":1.0},{"x":19550,"b":1.0}
    ],
    "envC": [
      {"x":0,"c":1.0},{"x":10100,"c":1.01},{"x":11000,"c":1.0},{"x":16000,"c":1.0},
      {"x":16570,"c":0.6},{"x":17080,"c":1.51},{"x":17930,"c":1.0},{"x":19550,"c":1.0}
    ],
    "envD": [
      {"x":0,"d":1.0},{"x":19550,"d":1.0}
    ]
  },
  "vconcat": [
    {
      "spacing": 27,
      "hconcat": [
        {
          "spacing": 0,
          "hconcat": [
            {"width": 1, "height": 1, "view": {"stroke": null, "fill": "white"},
             "data": {"values": []}, "mark": "point", "encoding": {}},
            {
              "width": 447,
              "height": 336,
              "title": {"text": "IMF Normalization Iteration 0"},
              "encoding": {
                "x": {"field": "x", "type": "quantitative",
                      "scale": {"domain": [-977.5, 20527.5], "nice": false, "zero": false},
                      "axis": {"values": [0,2500,5000,7500,10000,12500,15000,17500,20000], "format": "d",
                               "title": "(a) Original Signal", "titleX": 206, "titleY": 80,
                               "titleBaseline": "alphabetic", "titleAlign": "center"}},
                "y": {"field": "a", "type": "quantitative",
                      "scale": {"domain": [-0.00608, 0.00614], "nice": false, "zero": false},
                      "axis": {"values": [-0.006,-0.004,-0.002,0,0.002,0.004,0.006], "format": ".3f", "title": null}}
              },
              "layer": [
                {"data": {"name": "core"}, "mark": {"type": "area", "color": "#1f77b4", "clip": true},
                 "encoding": {"y2": {"field": "a2"}}},
                {"data": {"name": "body"}, "mark": {"type": "line", "color": "#1f77b4", "strokeWidth": 1.6, "clip": true},
                 "encoding": {}},
                {"data": {"name": "signal"}, "mark": {"type": "line", "color": "#1f77b4", "strokeWidth": 1.6, "clip": true},
                 "encoding": {}},
                {"data": {"name": "envA"}, "mark": {"type": "line", "color": "#ff7f0e", "strokeWidth": 1.6, "clip": true},
                 "encoding": {}}
              ]
            }
          ]
        },
        {
          "width": 461,
          "height": 336,
          "title": {"text": "IMF Normalization Iteration 1"},
          "encoding": {
            "x": {"field": "x", "type": "quantitative",
                  "scale": {"domain": [-977.5, 20527.5], "nice": false, "zero": false},
                  "axis": {"values": [0,2500,5000,7500,10000,12500,15000,17500,20000], "format": "d",
                           "title": "(b) First Iteration", "titleX": 222, "titleY": 80,
                           "titleBaseline": "alphabetic", "titleAlign": "center"}},
            "y": {"field": "b", "type": "quantitative",
                  "scale": {"domain": [-2.125, 2.13], "nice": false, "zero": false},
                  "axis": {"values": [-2,-1.5,-1,-0.5,0,0.5,1,1.5,2], "format": ".1f", "title": null}}
          },
          "layer": [
            {"data": {"name": "core"}, "mark": {"type": "area", "color": "#1f77b4", "clip": true},
             "encoding": {"y2": {"field": "b2"}}},
            {"data": {"name": "body"}, "mark": {"type": "line", "color": "#1f77b4", "strokeWidth": 1.6, "clip": true},
             "encoding": {}},
            {"data": {"name": "signal"}, "mark": {"type": "line", "color": "#1f77b4", "strokeWidth": 1.6, "clip": true},
             "encoding": {}},
            {"data": {"name": "envB"}, "mark": {"type": "line", "color": "#ff7f0e", "strokeWidth": 1.6, "clip": true},
             "encoding": {}}
          ]
        }
      ]
    },
    {
      "spacing": 27,
      "hconcat": [
        {
          "spacing": 0,
          "hconcat": [
            {"width": 1, "height": 1, "view": {"stroke": null, "fill": "white"},
             "data": {"values": []}, "mark": "point", "encoding": {}},
            {
              "width": 462,
              "height": 337,
              "title": {"text": "IMF Normalization Iteration 3"},
              "encoding": {
                "x": {"field": "x", "type": "quantitative",
                      "scale": {"domain": [-977.5, 20527.5], "nice": false, "zero": false},
                      "axis": {"values": [0,2500,5000,7500,10000,12500,15000,17500,20000], "format": "d",
                               "title": "(c) Third Iteration", "titleX": 219, "titleY": 79,
                               "titleBaseline": "alphabetic", "titleAlign": "center"}},
                "y": {"field": "c", "type": "quantitative",
                      "scale": {"domain": [-1.65, 1.66], "nice": false, "zero": false},
                      "axis": {"values": [-1.5,-1,-0.5,0,0.5,1,1.5], "format": ".1f", "title": null}}
              },
              "layer": [
                {"data": {"name": "core"}, "mark": {"type": "area", "color": "#1f77b4", "clip": true},
                 "encoding": {"y2": {"field": "c2"}}},
                {"data": {"name": "body"}, "mark": {"type": "line", "color": "#1f77b4", "strokeWidth": 1.6, "clip": true},
                 "encoding": {}},
                {"data": {"name": "signal"}, "mark": {"type": "line", "color": "#1f77b4", "strokeWidth": 1.6, "clip": true},
                 "encoding": {}},
                {"data": {"name": "envC"}, "mark": {"type": "line", "color": "#ff7f0e", "strokeWidth": 1.6, "clip": true},
                 "encoding": {}}
              ]
            }
          ]
        },
        {
          "width": 454,
          "height": 337,
          "title": {"text": "IMF Normalization Iteration 7"},
          "encoding": {
            "x": {"field": "x", "type": "quantitative",
                  "scale": {"domain": [-977.5, 20527.5], "nice": false, "zero": false},
                  "axis": {"values": [0,2500,5000,7500,10000,12500,15000,17500,20000], "format": "d",
                           "title": "(d) Last Iteration", "titleX": 214, "titleY": 79,
                           "titleBaseline": "alphabetic", "titleAlign": "center"}},
            "y": {"field": "d", "type": "quantitative",
                  "scale": {"domain": [-1.1, 1.1], "nice": false, "zero": false},
                  "axis": {"values": [-1,-0.75,-0.5,-0.25,0,0.25,0.5,0.75,1], "format": ".2f", "title": null}}
          },
          "layer": [
            {"data": {"name": "core"}, "mark": {"type": "area", "color": "#1f77b4", "clip": true},
             "encoding": {"y2": {"field": "d2"}}},
            {"data": {"name": "body"}, "mark": {"type": "line", "color": "#1f77b4", "strokeWidth": 1.6, "clip": true},
             "encoding": {}},
            {"data": {"name": "signal"}, "mark": {"type": "line", "color": "#1f77b4", "strokeWidth": 1.6, "clip": true},
             "encoding": {}},
            {"data": {"name": "envD"}, "mark": {"type": "line", "color": "#ff7f0e", "strokeWidth": 1.6, "clip": true},
             "encoding": {}}
          ]
        }
      ]
    }
  ]
}
